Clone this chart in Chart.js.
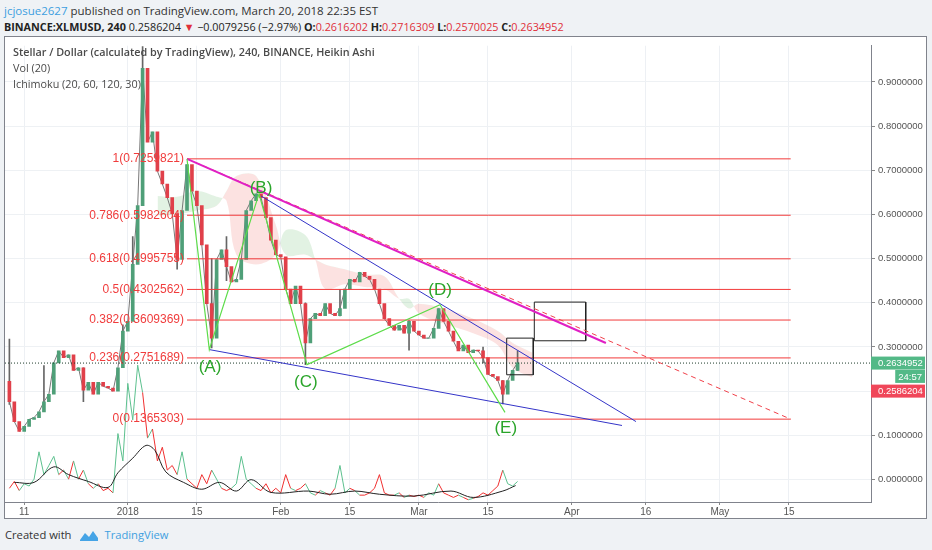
<!DOCTYPE html>
<html>
<head>
<meta charset="utf-8">
<script src="https://cdn.jsdelivr.net/npm/chart.js@4.4.1/dist/chart.umd.min.js"></script>
<style>
  body { margin: 0; width: 932px; height: 550px; overflow: hidden; position: relative; background: #eff2f5; font-family: 'Open Sans', sans-serif; }
  #hdr1 { position: absolute; left: 4px; top: 3px; font-size: 11.5px; color: #333; white-space: nowrap; }
  #hdr1 .user { color: #3d9fe0; }
  #hdr2 { position: absolute; left: 4px; top: 19px; font-size: 10.8px; color: #222; white-space: nowrap; }
  #hdr2 b { font-weight: 700; }
  #hdr2 .dn { color: #e0303a; }
  #box { position: absolute; left: 4px; top: 36px; width: 921px; height: 481px; background: #fff; border: 1px solid #80838c; }
  #chart { position: absolute; left: 0; top: 0; }
  .leg { position: absolute; left: 8px; font-size: 10.8px; color: #4a4a4a; white-space: nowrap; }
  #foot { position: absolute; left: 5px; top: 527px; font-size: 11.2px; color: #333; white-space: nowrap; }
  #foot .tv { color: #3fa0e0; }
  #foot svg { vertical-align: -3px; margin: 0 5px 0 8px; }
</style>
</head>
<body>
<div id="hdr1"><span class="user">jcjosue2627</span> published on TradingView.com, March 20, 2018 22:35 EST</div>
<div id="hdr2"><b>BINANCE:XLMUSD, 240</b> 0.2586204 <span class="dn">▼</span> −0.0079256 (−2.97%) <b>O:</b><span class="dn">0.2616202</span> <b>H:</b><span class="dn">0.2716309</span> <b>L:</b><span class="dn">0.2570025</span> <b>C:</b><span class="dn">0.2634952</span></div>
<div id="box">
  <canvas id="chart" width="921" height="481"></canvas>
  <div class="leg" style="top:7px;font-weight:600">Stellar / Dollar (calculated by TradingView), 240, BINANCE, Heikin Ashi</div>
  <div class="leg" style="top:23px">Vol (20)</div>
  <div class="leg" style="top:39px">Ichimoku (20, 60, 120, 30)</div>
</div>
<div id="foot">Created with<svg width="20" height="13" viewBox="0 0 20 13"><path d="M1 11 L6 4 L10 8 L14 2 L19 9 L19 12 L1 12 Z" fill="#45a4e6"/></svg><span class="tv">TradingView</span></div>

<script>
// time axis: days counted from 1 Jan 2018
const xTickDays = [-21, 0, 14, 31, 45, 59, 73, 90, 105, 120, 134];
const xTickLabels = ['11', '2018', '15', 'Feb', '15', 'Mar', '15', 'Apr', '16', 'May', '15'];
const yTickValues = [0, 0.1, 0.2, 0.3, 0.4, 0.5, 0.6, 0.7, 0.8, 0.9];

// price, one reading per day starting 7 Dec 2017 (day -24)
const firstDay = -24;
const firstOpen = 0.222;
const priceClose = [
  0.176, 0.131, 0.109, 0.120, 0.136, 0.140, 0.153, 0.176, 0.193, 0.264,
  0.291, 0.276, 0.282, 0.247, 0.253, 0.202, 0.220, 0.193, 0.220, 0.211,
  0.207, 0.200, 0.253, 0.336, 0.358, 0.487, 0.620, 0.931, 0.764, 0.787,
  0.698, 0.669, 0.638, 0.602, 0.498, 0.609, 0.713, 0.653, 0.620, 0.531,
  0.398, 0.320, 0.498, 0.520, 0.482, 0.447, 0.453, 0.498, 0.609, 0.631,
  0.647, 0.638, 0.593, 0.542, 0.509, 0.504, 0.431, 0.398, 0.438, 0.398,
  0.309, 0.364, 0.376, 0.371, 0.398, 0.376, 0.371, 0.387, 0.431, 0.453,
  0.447, 0.469, 0.460, 0.453, 0.431, 0.398, 0.364, 0.349, 0.338, 0.349,
  0.331, 0.358, 0.336, 0.327, 0.320, 0.320, 0.342, 0.387, 0.358, 0.336,
  0.313, 0.291, 0.304, 0.287, 0.293, 0.291, 0.276, 0.238, 0.233, 0.224,
  0.193, 0.224, 0.247, 0.264
];
// long wicks: [day, low, high]
const wicks = [
  [-24, 0.170, 0.318], [-17, 0.170, 0.258], [-9, 0.176, 0.253], [-1, 0.253, 0.350],
  [1, 0.360, 0.550], [3, 0.620, 0.980], [10, 0.476, 0.600], [17, 0.298, 0.500],
  [20, 0.450, 0.550], [36, 0.260, 0.400], [43, 0.370, 0.430], [57, 0.293, 0.360],
  [72, 0.264, 0.300], [76, 0.171, 0.224], [79, 0.247, 0.291]
];
const volume = [
  3, 4.5, 2.5, 4, 3.5, 5, 11, 6, 8, 10,
  6, 7, 5, 9, 5, 7, 4, 3, 4, 2.5,
  3, 2, 15, 9, 26, 18, 30, 24, 14, 16,
  9, 12, 7, 8, 6, 11, 5, 4, 3, 6,
  4, 7, 5, 3, 2.5, 3, 4, 10, 5, 4,
  3, 2.5, 4, 2, 3, 2, 6, 3, 2.5, 3,
  4, 2, 1.5, 2.5, 2, 1.5, 3, 8, 2, 3,
  2.5, 1.5, 1.5, 2, 3, 6, 2, 1.5, 1.5, 2,
  1, 1.5, 1.2, 1.5, 1, 2, 1.5, 4, 2, 1.5,
  1, 1.5, 1, 0.5, 0.8, 1.2, 2, 1.5, 2.5, 3.5,
  7, 4, 3.5, 4.5
];
const volMaDays = [-23, -19, -15, -12, -8, -4, -2, 1, 3.7, 5.5, 7.7, 11.3, 15, 18.6, 22, 25, 29, 36.6, 41, 46, 51, 58, 65.5, 70, 76, 78.6];
const volMa = [4.3, 4.3, 7.7, 6, 4.5, 3.2, 6.4, 9.6, 12.4, 11.3, 6.6, 4.3, 2.8, 4.3, 2.4, 4.9, 2.1, 2.4, 1.7, 2.4, 1.7, 1.3, 2.4, 1, 2.4, 3.6];

// Ichimoku cloud edges
const cloudDays = [6, 10, 14, 18, 20, 22, 26, 30, 32, 36, 38, 40, 44, 48, 52, 55, 57, 59, 64, 70, 75, 78, 82];
const spanA = [0.642, 0.640, 0.653, 0.640, 0.631, 0.509, 0.487, 0.509, 0.564, 0.553, 0.498, 0.431, 0.442, 0.436, 0.431, 0.409, 0.409, 0.376, 0.353, 0.331, 0.304, 0.253, 0.231];
const spanB = [0.598, 0.600, 0.609, 0.620, 0.653, 0.687, 0.687, 0.576, 0.509, 0.509, 0.498, 0.487, 0.476, 0.464, 0.460, 0.409, 0.387, 0.398, 0.387, 0.364, 0.336, 0.309, 0.287];

// Fibonacci retracement
const fibStart = 12.0;
const fibEnd = 134.35;
const fibLabels = ['1(0.7259821)', '0.786(0.5982604)', '0.618(0.4995755)', '0.5(0.4302562)', '0.382(0.3609369)', '0.236(0.2751689)', '0(0.1365303)'];
const fibValues = [0.7259821, 0.5982604, 0.4995755, 0.4302562, 0.3609369, 0.2751689, 0.1365303];

// drawings
const zigzagDays = [12.0, 16.52, 26.59, 36.32, 63.28, 76.45];
const zigzagValues = [0.7259821, 0.294, 0.6467, 0.26, 0.3956, 0.1518];
const waveLabels = ['(A)', '(B)', '(C)', '(D)', '(E)'];
const waveDays = [16.66, 27.0, 36.1, 63.28, 76.6];
const waveValues = [0.2533, 0.6584, 0.22, 0.4273, 0.1162];
const lowerWedgeDays = [16.52, 100.16], lowerWedgeValues = [0.294, 0.1222];
const upperWedgeDays = [27.0, 103.0], upperWedgeValues = [0.642, 0.131];
const magentaDays = [12.0, 96.9], magentaValues = [0.7259821, 0.3089];
const dashedDays = [12.0, 134.35], dashedValues = [0.7259821, 0.1365303];
const boxes = [[76.79, 82.18, 0.32, 0.237], [82.39, 92.81, 0.4016, 0.314]];

const lastPrice = 0.2634952;
const tagTexts = ['0.2634952', '24:57', '0.2586204'];
const tagValues = [0.2634952, 0.2333, 0.2];
const tagColors = ['#53b987', '#53b987', '#f0475a'];

const X_MIN = -24.89, X_MAX = 150.63;
const Y_MIN = -0.0511, Y_MAX = 0.9822;
const GREEN = '#4f9f78', RED = '#e0404a';
const FONT = '"Liberation Sans", Arial, sans-serif';

function pts(days, vals) { return days.map((d, i) => ({ x: d, y: vals[i] })); }
function isUp(i) { return priceClose[i] >= (i ? priceClose[i - 1] : firstOpen); }

const datasets = [];

// drawings on top
datasets.push({ data: pts(zigzagDays, zigzagValues), borderColor: '#5ddc4a', borderWidth: 1.2, order: 1 });
datasets.push({ data: pts(magentaDays, magentaValues), borderColor: '#e01fc4', borderWidth: 2, order: 2 });
datasets.push({ data: pts(dashedDays, dashedValues), borderColor: '#f0404a', borderWidth: 1, borderDash: [5, 4], order: 2 });
datasets.push({ data: pts(lowerWedgeDays, lowerWedgeValues), borderColor: '#3434c8', borderWidth: 1, order: 2 });
datasets.push({ data: pts(upperWedgeDays, upperWedgeValues), borderColor: '#3434c8', borderWidth: 1, order: 2 });
boxes.forEach(b => {
  datasets.push({
    data: [{ x: b[0], y: b[2] }, { x: b[1], y: b[2] }, { x: b[1], y: b[3] }, { x: b[0], y: b[3] }, { x: b[0], y: b[2] }],
    borderColor: '#222', borderWidth: 1, order: 2
  });
});
fibValues.forEach(v => {
  datasets.push({ data: [{ x: fibStart, y: v }, { x: fibEnd, y: v }], borderColor: '#f23a3a', borderWidth: 1, order: 3 });
});
datasets.push({ data: [{ x: X_MIN, y: lastPrice }, { x: X_MAX, y: lastPrice }], borderColor: '#1d3b2a', borderWidth: 1, borderDash: [1, 2], order: 4 });

// price candles (Heikin Ashi style bodies), wicks and a thin close trace
datasets.push({
  type: 'bar',
  data: priceClose.map((c, i) => ({ x: firstDay + i, y: [i ? priceClose[i - 1] : firstOpen, c] })),
  backgroundColor: priceClose.map((c, i) => isUp(i) ? GREEN : RED),
  barThickness: 3, grouped: false, order: 10
});
datasets.push({
  data: priceClose.map((c, i) => ({ x: firstDay + i, y: c })),
  borderColor: '#777', borderWidth: 1, order: 11
});
datasets.push({
  type: 'bar',
  data: wicks.map(w => ({ x: w[0], y: [w[1], w[2]] })),
  backgroundColor: '#666', barThickness: 1, grouped: false, order: 11
});

// volume
datasets.push({ data: pts(volMaDays, volMa), yAxisID: 'yv', borderColor: '#222', borderWidth: 1, tension: 0.35, order: 12 });
datasets.push({
  data: volume.map((v, i) => ({ x: firstDay + i, y: v })), yAxisID: 'yv', borderWidth: 1, order: 13,
  segment: { borderColor: c => isUp(c.p1DataIndex) ? '#5cc08e' : '#f03030' }
});

// Ichimoku cloud
datasets.push({
  data: pts(cloudDays, spanA), borderWidth: 0, tension: 0.35, order: 30,
  fill: { target: '+1', above: 'rgba(76,175,80,0.16)', below: 'rgba(239,83,80,0.17)' }
});
datasets.push({ data: pts(cloudDays, spanB), borderWidth: 0, tension: 0.35, order: 31 });

datasets.forEach(ds => { ds.pointRadius = 0; });

const overlayText = {
  id: 'overlayText',
  afterDatasetsDraw(chart) {
    const { ctx } = chart;
    const x = chart.scales.x, y = chart.scales.y;
    ctx.save();
    ctx.font = '12px ' + FONT;
    ctx.fillStyle = '#f03c3c';
    ctx.textAlign = 'right';
    ctx.textBaseline = 'middle';
    fibValues.forEach((v, i) => ctx.fillText(fibLabels[i], x.getPixelForValue(fibStart) - 3, y.getPixelForValue(v)));
    ctx.font = '17px ' + FONT;
    ctx.fillStyle = '#2aa52a';
    ctx.textAlign = 'center';
    waveLabels.forEach((t, i) => ctx.fillText(t, x.getPixelForValue(waveDays[i]), y.getPixelForValue(waveValues[i])));
    ctx.restore();
  },
  afterDraw(chart) {
    const { ctx, chartArea } = chart;
    const y = chart.scales.y;
    ctx.save();
    ctx.font = '9.5px ' + FONT;
    ctx.textBaseline = 'middle';
    tagTexts.forEach((t, i) => {
      const yy = y.getPixelForValue(tagValues[i]);
      const right = chart.width - 1;
      const left = i === 1 ? right - ctx.measureText(t).width - 6 : chartArea.right;
      ctx.fillStyle = tagColors[i];
      ctx.fillRect(left, yy - 6.5, right - left, 13);
      ctx.fillStyle = '#fff';
      ctx.textAlign = 'left';
      ctx.fillText(t, i === 1 ? left + 3 : chartArea.right + 7, yy + 0.5);
    });
    ctx.restore();
  }
};

new Chart(document.getElementById('chart'), {
  type: 'line',
  data: { datasets },
  options: {
    responsive: false,
    animation: false,
    layout: { padding: 0 },
    plugins: { legend: { display: false }, tooltip: { enabled: false } },
    scales: {
      x: {
        type: 'linear', min: X_MIN, max: X_MAX, offset: false,
        afterBuildTicks: s => { s.ticks = xTickDays.map(v => ({ value: v })); },
        afterFit: s => { s.height = 16; },
        ticks: { callback: (v, i) => xTickLabels[i], font: { size: 10, family: FONT }, color: '#555', padding: 1, maxRotation: 0, autoSkip: false },
        grid: { color: '#edf0f4', tickLength: 3, tickColor: '#888', offset: false },
        border: { color: '#80838c' }
      },
      y: {
        position: 'right', min: Y_MIN, max: Y_MAX,
        afterBuildTicks: s => { s.ticks = yTickValues.map(v => ({ value: v })); },
        afterFit: s => { s.width = 55; },
        ticks: { callback: v => v.toFixed(7), font: { size: 9.5, family: FONT }, color: '#555', padding: 3 },
        grid: { color: '#eef1f4', tickLength: 4, tickColor: '#888' },
        border: { color: '#80838c' }
      },
      yv: { display: false, min: 0, max: 100 }
    }
  },
  plugins: [overlayText]
});
</script>
</body>
</html>
